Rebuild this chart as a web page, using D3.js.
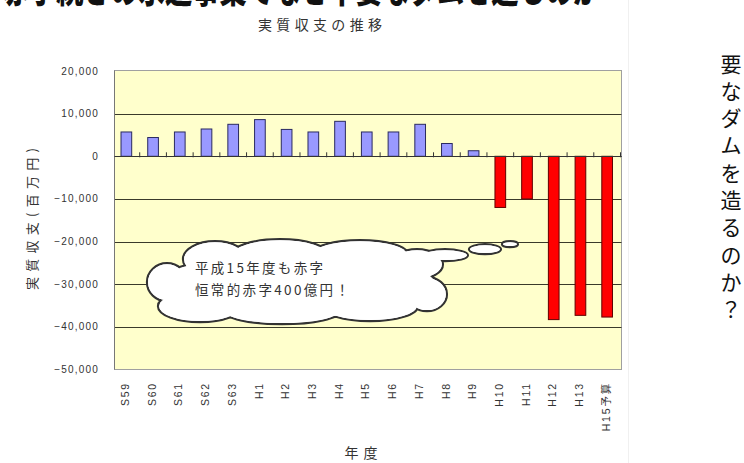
<!DOCTYPE html>
<html><head><meta charset="utf-8">
<script src="https://cdn.jsdelivr.net/npm/d3@7"></script>
<style>
html,body{margin:0;padding:0;background:#fff;}
svg{display:block;}
</style></head>
<body>
<svg id="chart" width="744" height="463"></svg>
<script>
const categories = ["S59","S60","S61","S62","S63","H1","H2","H3","H4","H5","H6","H7","H8","H9","H10","H11","H12","H13","H15予算"];
const values = [5700,4400,5700,6400,7500,8600,6300,5700,8200,5700,5700,7500,3000,1300,-12000,-10000,-38300,-37300,-37700];
const yTicks = [20000,10000,0,-10000,-20000,-30000,-40000,-50000];
const titleText = "実質収支の推移";
const yTitle = "実質収支(百万円)";
const xTitle = "年度";
const cloudLines = ["平成15年度も赤字","恒常的赤字400億円！"];
const sideText = "要なダムを造るのか？";
const bannerText = "赤字続きの水道事業でなぜ不要なダムを造るのか";

const svg = d3.select("#chart");
const JP = "'Noto Sans CJK JP','Noto Sans',sans-serif";
const LAT = "'Liberation Sans','Noto Sans CJK JP',sans-serif";

// banner (cut off at top, as in the reference)
svg.append("text").attr("x",2).attr("y",3)
  .attr("font-family",JP).attr("font-size",36).attr("font-weight",900)
  .attr("fill","#111").attr("stroke","#fff").attr("stroke-width",1.5).attr("paint-order","stroke")
  .attr("textLength",598).attr("lengthAdjust","spacingAndGlyphs")
  .text(bannerText);

// faint separator at right
svg.append("line").attr("x1",628.5).attr("x2",628.5).attr("y1",0).attr("y2",463)
  .attr("stroke","#f0f0f0");

const plot = {l:114.5, r:621.5, t:70.5, b:369.5};
const x = d3.scaleBand().domain(categories).range([113, 620.5]).padding(0);
const y = d3.scaleLinear().domain([-50000,20000]).range([369.5,71]);
const bw = x.bandwidth()*0.4;

svg.append("rect").attr("x",plot.l).attr("y",plot.t).attr("width",plot.r-plot.l).attr("height",plot.b-plot.t)
  .attr("fill","#FFFFCC").attr("stroke","#a0a0a0").attr("stroke-width",1);

svg.append("g").selectAll("line").data(yTicks.filter(d=>d<20000&&d>-50000)).join("line")
  .attr("x1",plot.l).attr("x2",plot.r)
  .attr("y1",d=>Math.round(y(d))+0.5).attr("y2",d=>Math.round(y(d))+0.5)
  .attr("stroke","#3a3a2a").attr("stroke-width",1.2);

svg.append("line").attr("x1",plot.l).attr("x2",plot.l).attr("y1",plot.t).attr("y2",plot.b)
  .attr("stroke","#777");

const fmt = d => (d<0?"\u2212":"") + d3.format(",")(Math.abs(d));
svg.append("g").selectAll("text").data(yTicks).join("text")
  .attr("x",99).attr("y",d=>y(d)).attr("dy","0.35em").attr("text-anchor","end")
  .attr("font-family",LAT).attr("font-size",10).attr("letter-spacing",1.2).attr("fill","#333")
  .text(fmt);

const y0 = y(0);
svg.append("g").selectAll("rect").data(values).join("rect")
  .attr("x",(d,i)=>x(categories[i])+x.bandwidth()/2-bw/2)
  .attr("width",bw)
  .attr("y",d=>d>=0?y(d):y0)
  .attr("height",d=>Math.abs(y(d)-y0))
  .attr("fill",d=>d>=0?"#9999FF":"#FF0000")
  .attr("stroke",d=>d>=0?"#2a2a60":"#600000").attr("stroke-width",1);

const bounds = categories.map(c=>x(c)).concat([x.range()[1]]).slice(1);
svg.append("g").selectAll("line").data(bounds).join("line")
  .attr("x1",d=>d).attr("x2",d=>d).attr("y1",y0-4).attr("y2",y0+1)
  .attr("stroke","#333");
svg.append("line").attr("x1",plot.l).attr("x2",plot.r)
  .attr("y1",Math.round(y0)+0.5).attr("y2",Math.round(y0)+0.5)
  .attr("stroke","#333").attr("stroke-width",1.2);

svg.append("g").selectAll("text").data(categories).join("text")
  .attr("transform",d=>`translate(${x(d)+x.bandwidth()/2-1},382) rotate(-90)`)
  .attr("dy","0.35em").attr("text-anchor","end")
  .attr("font-family",LAT).attr("font-size",10.5).attr("letter-spacing",1.8).attr("fill","#333")
  .text(d=>d);

svg.append("text").attr("x",320).attr("y",25).attr("dy","0.35em").attr("text-anchor","middle")
  .attr("font-family",JP).attr("font-size",14).attr("fill","#333")
  .attr("textLength",124).attr("lengthAdjust","spacing").text(titleText);
svg.append("text").attr("transform","translate(32,219) rotate(-90)").attr("dy","0.35em").attr("text-anchor","middle")
  .attr("font-family",JP).attr("font-size",13).attr("fill","#333")
  .attr("textLength",142).attr("lengthAdjust","spacing").text(yTitle);
svg.append("text").attr("x",361).attr("y",453).attr("dy","0.35em").attr("text-anchor","middle")
  .attr("font-family",JP).attr("font-size",14).attr("fill","#333")
  .attr("textLength",33).attr("lengthAdjust","spacing").text(xTitle);

// cloud callout, anchored on scales
const cx = (x("H2")+x("H3"))/2 + x.bandwidth()/2 - 3;
const cy = y(-30000);
const lobes = [
  [0,1,140,33],[-82,-25,32,18],[-17,-30,48,15],[63,-30,48,14],[120,-20,26,15],
  [-97,22,42,16],[-15,27,58,13],[73,22,48,15],[130,10,20,17],[-130,-2,20,19]
];
const bubbles = [[148,-29,23,6],[188,-35,16,5],[213,-40,8,3]];
const cg = svg.append("g").attr("transform",`translate(${cx},${cy})`);
const all = lobes.concat(bubbles);
cg.selectAll("ellipse.o").data(all).join("ellipse").attr("class","o")
  .attr("cx",d=>d[0]).attr("cy",d=>d[1]).attr("rx",d=>d[2]).attr("ry",d=>d[3])
  .attr("fill","#fff").attr("stroke","#333").attr("stroke-width",2.2);
cg.selectAll("ellipse.i").data(all).join("ellipse").attr("class","i")
  .attr("cx",d=>d[0]).attr("cy",d=>d[1]).attr("rx",d=>d[2]-1.1).attr("ry",d=>d[3]-1.1)
  .attr("fill","#fff");
cg.selectAll("text").data(cloudLines).join("text")
  .attr("x",-102).attr("y",(d,i)=>-16+i*22).attr("dy","0.35em")
  .attr("font-family",JP).attr("font-size",13.5).attr("fill","#333")
  .attr("textLength",(d,i)=>i===0?128:154).attr("lengthAdjust","spacing")
  .text(d=>d);

svg.append("g").selectAll("text").data(Array.from(sideText)).join("text")
  .attr("x",731).attr("y",(d,i)=>64+i*27.3).attr("dy","0.36em").attr("text-anchor","middle")
  .attr("font-family",JP).attr("font-size",21).attr("fill","#111")
  .text(d=>d);
</script>
</body></html>
